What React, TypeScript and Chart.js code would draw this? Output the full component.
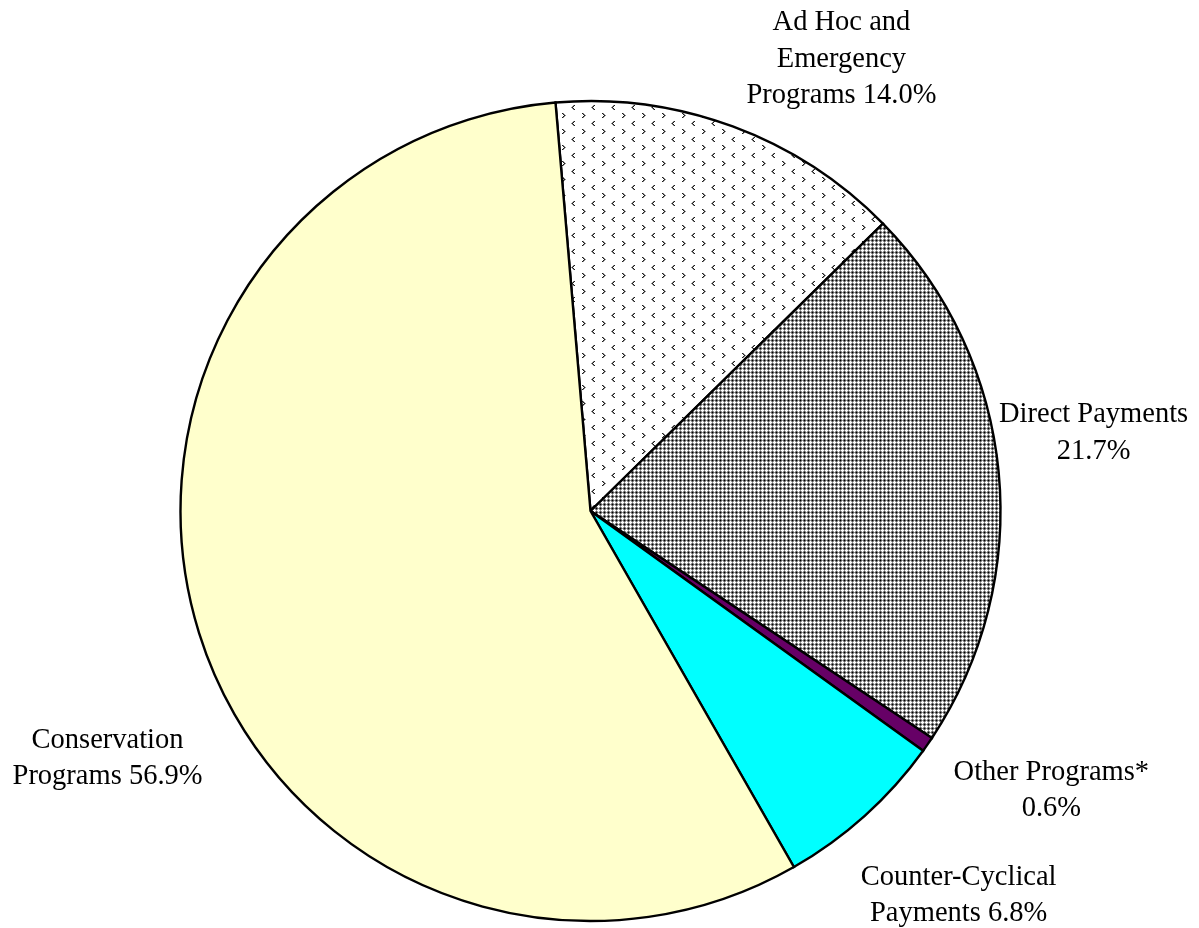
import React, { useEffect, useRef } from "react";
import { Chart, registerables } from "chart.js";

Chart.register(...registerables);

// ---- data ----
const categories = [
  "Ad Hoc and Emergency Programs",
  "Direct Payments",
  "Other Programs*",
  "Counter-Cyclical Payments",
  "Conservation Programs",
];
const shares = [14.0, 21.7, 0.6, 6.8, 56.9];
// label text split into lines; the share is appended to the last line
const labelTexts = [
  ["Ad Hoc and", "Emergency", "Programs"],
  ["Direct Payments", ""],
  ["Other Programs*", ""],
  ["Counter-Cyclical", "Payments"],
  ["Conservation", "Programs"],
];

// ---- layout (label anchors relative to pie centre, in radius units: x centre, first baseline) ----
const labelAnchors = [
  [0.612, -1.173],
  [1.227, -0.217],
  [1.124, 0.656],
  [0.898, 0.912],
  [-1.178, 0.578],
];

function makeTile(rows: string[], palette: Record<string, string>) {
  const h = rows.length;
  const w = rows[0].length;
  const c = document.createElement("canvas");
  c.width = w;
  c.height = h;
  const cx = c.getContext("2d")!;
  for (let y = 0; y < h; y++) {
    for (let x = 0; x < w; x++) {
      cx.fillStyle = palette[rows[y][x]];
      cx.fillRect(x, y, 1, 1);
    }
  }
  return c;
}

function adHocPattern(ctx: CanvasRenderingContext2D) {
  const rows = [
    "....................",
    "..dg................",
    "...dg...............",
    "....dg..............",
    "...dg...............",
    "..dg................",
    "....................",
    "....................",
    "....................",
    ".............gd.....",
    "............gd......",
    "...........gd.......",
    "............gd......",
    ".............gd.....",
    "....................",
    "....................",
  ];
  const tile = makeTile(rows, { ".": "#ffffff", d: "#1e1e1e", g: "#8a8a8a" });
  return ctx.createPattern(tile, "repeat")!;
}

function directPattern(ctx: CanvasRenderingContext2D) {
  const rows = [
    "kdgdkdgd",
    "dgwgdgwg",
    "gwwwgwww",
    "dgwgdgwg",
    "kdgdkdgd",
    "dgwgdgwg",
    "gwwwgwww",
    "dgwgdgwg",
  ];
  const tile = makeTile(rows, { w: "#ffffff", g: "#999999", d: "#555555", k: "#000000" });
  return ctx.createPattern(tile, "repeat")!;
}

const outerLabels = {
  id: "outerLabels",
  afterDatasetsDraw(chart: any) {
    const meta = chart.getDatasetMeta(0);
    const ctx = chart.ctx as CanvasRenderingContext2D;
    ctx.save();
    ctx.font = '28.5px "Liberation Serif", "Times New Roman", serif';
    ctx.fillStyle = "#000000";
    ctx.textAlign = "center";
    ctx.textBaseline = "alphabetic";
    meta.data.forEach((arc: any, i: number) => {
      const p = arc.getProps(["x", "y", "outerRadius"], true);
      const R = p.outerRadius;
      const lines = labelTexts[i].slice();
      const last = lines.length - 1;
      const pct = shares[i].toFixed(1) + "%";
      lines[last] = lines[last] ? lines[last] + " " + pct : pct;
      const a = labelAnchors[i];
      lines.forEach((line, j) => {
        ctx.fillText(line, p.x + a[0] * R, p.y + a[1] * R + j * 36.5);
      });
    });
    ctx.restore();
  },
};

export default function App() {
  const ref = useRef<HTMLCanvasElement>(null);
  useEffect(() => {
    document.body.style.margin = "0";
    const canvas = ref.current!;
    const ctx = canvas.getContext("2d")!;
    const colors = [
      adHocPattern(ctx),
      directPattern(ctx),
      "#660066",
      "#00ffff",
      "#ffffcc",
    ];
    const chart = new Chart(canvas, {
      type: "pie",
      data: {
        labels: categories,
        datasets: [
          {
            data: shares,
            backgroundColor: colors as any,
            borderColor: "#000000",
            borderWidth: 2.4,
            borderJoinStyle: "miter",
          },
        ],
      },
      options: {
        responsive: false,
        animation: false,
        rotation: -4.9,
        layout: { padding: { left: 179.3, right: 197.3, top: 99.8, bottom: 5.8 } },
        plugins: {
          legend: { display: false },
          tooltip: { enabled: false },
        },
      },
      plugins: [outerLabels],
    });
    return () => chart.destroy();
  }, []);
  return (
    <div style={{ width: 1199, height: 928, background: "#ffffff", overflow: "hidden" }}>
      <canvas ref={ref} width={1199} height={928} style={{ display: "block" }} />
    </div>
  );
}
